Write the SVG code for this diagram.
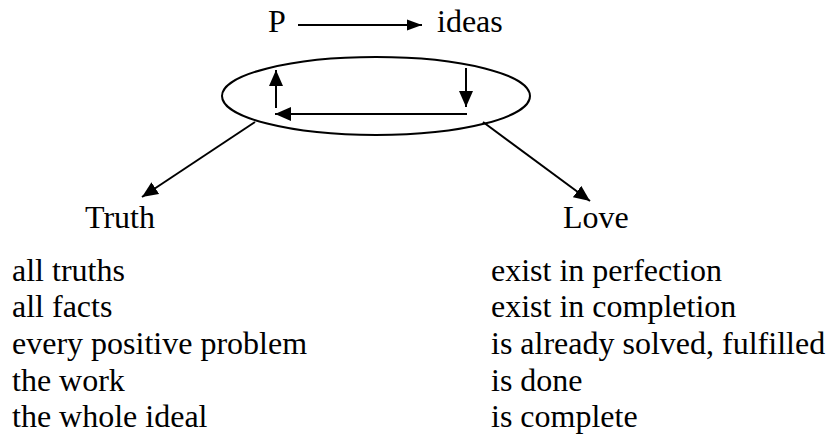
<svg xmlns="http://www.w3.org/2000/svg" width="829" height="434" viewBox="0 0 829 434">
<style>
text{font-family:"Liberation Serif","Times New Roman",serif;font-size:32px;fill:#000}
.ln{stroke:#000;stroke-width:2;fill:none}
</style>
<defs>
<marker id="ah" markerUnits="userSpaceOnUse" markerWidth="16" markerHeight="12" refX="15" refY="6" orient="auto"><path d="M0,0.5 L15,6 L0,11.5 z" fill="#000"/></marker>
<marker id="ah2" markerUnits="userSpaceOnUse" markerWidth="17" markerHeight="15" refX="16" refY="7.5" orient="auto"><path d="M0,0.5 L16,7.5 L0,14.5 z" fill="#000"/></marker>
</defs>
<rect width="829" height="434" fill="#fff"/>
<g id="P"><text x="268" y="32">P</text></g>
<g id="ideas"><text x="437" y="32">ideas</text></g>
<g id="cycle"><ellipse class="ln" cx="376" cy="96" rx="154" ry="39"/></g>
<g id="truth"><text x="85" y="228">Truth</text></g>
<g id="love"><text x="563" y="228">Love</text></g>
<g id="truth-list">
<text x="12" y="281">all truths</text>
<text x="12" y="317">all facts</text>
<text x="12" y="354">every positive problem</text>
<text x="12" y="391">the work</text>
<text x="12" y="427">the whole ideal</text>
</g>
<g id="love-list">
<text x="491" y="281">exist in perfection</text>
<text x="491" y="317">exist in completion</text>
<text x="491" y="354">is already solved, fulfilled</text>
<text x="491" y="391">is done</text>
<text x="491" y="427">is complete</text>
</g>
<g id="connectors">
<line class="ln" x1="298" y1="25" x2="422" y2="25" marker-end="url(#ah)"/>
<line class="ln" x1="466" y1="68" x2="466" y2="107" marker-end="url(#ah2)"/>
<line class="ln" x1="467" y1="114" x2="275" y2="114" marker-end="url(#ah2)"/>
<line class="ln" x1="276" y1="108" x2="276" y2="70" marker-end="url(#ah2)"/>
<line class="ln" x1="255" y1="122" x2="142" y2="197" marker-end="url(#ah2)"/>
<line class="ln" x1="483" y1="122" x2="590" y2="201" marker-end="url(#ah2)"/>
</g>
</svg>
